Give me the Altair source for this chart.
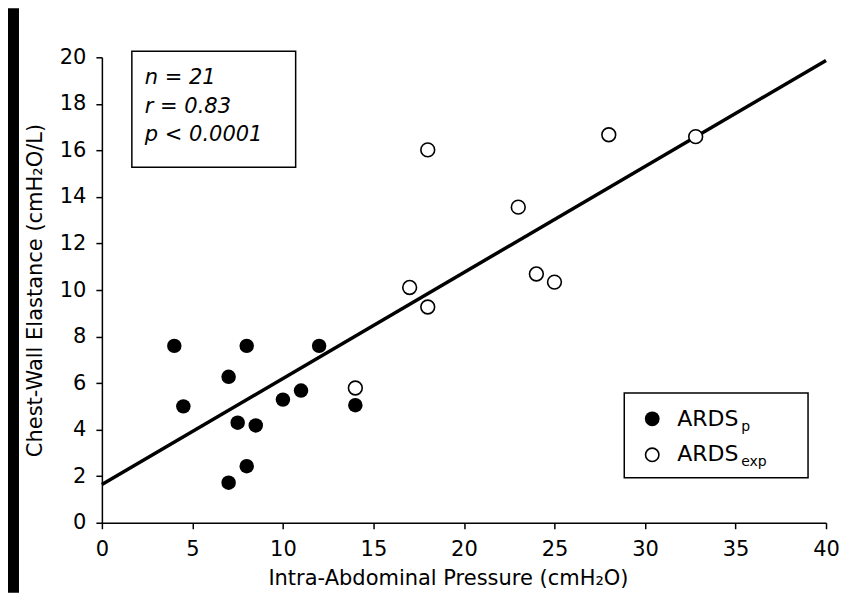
import altair as alt
import pandas as pd

# ARDSp (filled circles)
p_iap = [4, 4.5, 7, 7.5, 8, 8.5, 7, 8, 10, 11, 12, 14]
p_ecw = [7.6, 5.0, 6.27, 4.3, 7.6, 4.18, 1.72, 2.43, 5.29, 5.68, 7.6, 5.05]
# ARDSexp (open circles)
e_iap = [14, 17, 18, 18, 23, 24, 25, 28, 32.8]
e_ecw = [5.79, 10.11, 9.27, 16.02, 13.56, 10.69, 10.34, 16.67, 16.59]

x_ticks = [0, 5, 10, 15, 20, 25, 30, 35, 40]
y_ticks = [0, 2, 4, 6, 8, 10, 12, 14, 16, 18, 20]
x_title = "Intra-Abdominal Pressure (cmH₂O)"
y_title = "Chest-Wall Elastance (cmH₂O/L)"
stats_text = "n = 21\nr = 0.83\np < 0.0001"
legend_main = ["ARDS", "ARDS"]
legend_sub = ["p", "exp"]

df = pd.DataFrame({
    "iap": p_iap + e_iap,
    "ecw": p_ecw + e_ecw,
    "group": ["p"] * len(p_iap) + ["exp"] * len(e_iap),
})

FONT = "DejaVu Sans"
W, H = 725, 466

xs = alt.Scale(domain=[0, 40], nice=False)
ys = alt.Scale(domain=[0, 20], nice=False)
xenc = alt.X("iap:Q", scale=xs, axis=alt.Axis(values=x_ticks, title="", labelFlush=False))
yenc = alt.Y("ecw:Q", scale=ys, axis=alt.Axis(values=y_ticks, title=y_title, labelFlush=False))

one = pd.DataFrame({"k": [0]})

strip = alt.Chart(one).mark_rect(fill="black").encode(
    x=alt.value(-94), x2=alt.value(-83), y=alt.value(-49), y2=alt.value(536)
)

fit = alt.Chart(df).transform_regression("iap", "ecw", extent=[0, 40]).mark_line(
    color="black", strokeWidth=3.5
).encode(x=xenc, y=yenc)

open_pts = alt.Chart(df).transform_filter(alt.datum.group == "exp").mark_circle(
    size=190, fill="white", stroke="black", strokeWidth=1.6, opacity=1
).encode(x=xenc, y=yenc)

filled_pts = alt.Chart(df).transform_filter(alt.datum.group == "p").mark_circle(
    size=210, color="black", opacity=1
).encode(x=xenc, y=yenc)

xt = alt.Chart(one).mark_text(text=x_title, align="center", baseline="alphabetic",
    font=FONT, fontSize=21, color="black").encode(x=alt.value(347), y=alt.value(528))

stats_box = alt.Chart(one).mark_rect(fill="white", stroke="black", strokeWidth=1.5).encode(
    x=alt.value(30), x2=alt.value(194), y=alt.value(-6), y2=alt.value(110)
)
stats = alt.Chart(one).mark_text(
    text=stats_text, lineBreak="\n", lineHeight=28.5, align="left", baseline="middle",
    font=FONT, fontSize=21, fontStyle="italic", color="black"
).encode(x=alt.value(43), y=alt.value(21))

leg_box = alt.Chart(one).mark_rect(fill="white", stroke="black", strokeWidth=1.5).encode(
    x=alt.value(523), x2=alt.value(707), y=alt.value(336), y2=alt.value(421)
)
leg_filled = alt.Chart(one).mark_circle(size=220, color="black", opacity=1).encode(
    x=alt.value(551), y=alt.value(362)
)
leg_open = alt.Chart(one).mark_circle(size=180, fill="white", stroke="black", strokeWidth=1.6, opacity=1).encode(
    x=alt.value(551), y=alt.value(398)
)
leg_t1 = alt.Chart(one).mark_text(text=legend_main[0], align="left", baseline="middle",
    font=FONT, fontSize=22, color="black").encode(x=alt.value(576), y=alt.value(362))
leg_s1 = alt.Chart(one).mark_text(text=legend_sub[0], align="left", baseline="middle",
    font=FONT, fontSize=14, color="black").encode(x=alt.value(640), y=alt.value(370))
leg_t2 = alt.Chart(one).mark_text(text=legend_main[1], align="left", baseline="middle",
    font=FONT, fontSize=22, color="black").encode(x=alt.value(576), y=alt.value(397))
leg_s2 = alt.Chart(one).mark_text(text=legend_sub[1], align="left", baseline="middle",
    font=FONT, fontSize=14, color="black").encode(x=alt.value(640), y=alt.value(405))

chart = alt.layer(
    strip, fit, open_pts, filled_pts, xt, stats_box, stats,
    leg_box, leg_filled, leg_open, leg_t1, leg_s1, leg_t2, leg_s2
).properties(
    width=W, height=H,
    autosize=alt.AutoSizeParams(type="none"),
    padding={"left": 94, "top": 49, "right": 20, "bottom": 70},
    background="white",
).configure_view(stroke=None).configure_axis(
    grid=False, domainColor="black", domainWidth=1.5, tickColor="black", tickWidth=1.5,
    tickSize=6, labelFont=FONT, labelFontSize=21, labelColor="black", labelPadding=10,
    titleFont=FONT, titleFontSize=21, titleFontWeight="normal", titleColor="black",
).configure_axisY(titlePadding=14)

chart.save("out.html", embed_options={"renderer": "svg", "actions": False})
